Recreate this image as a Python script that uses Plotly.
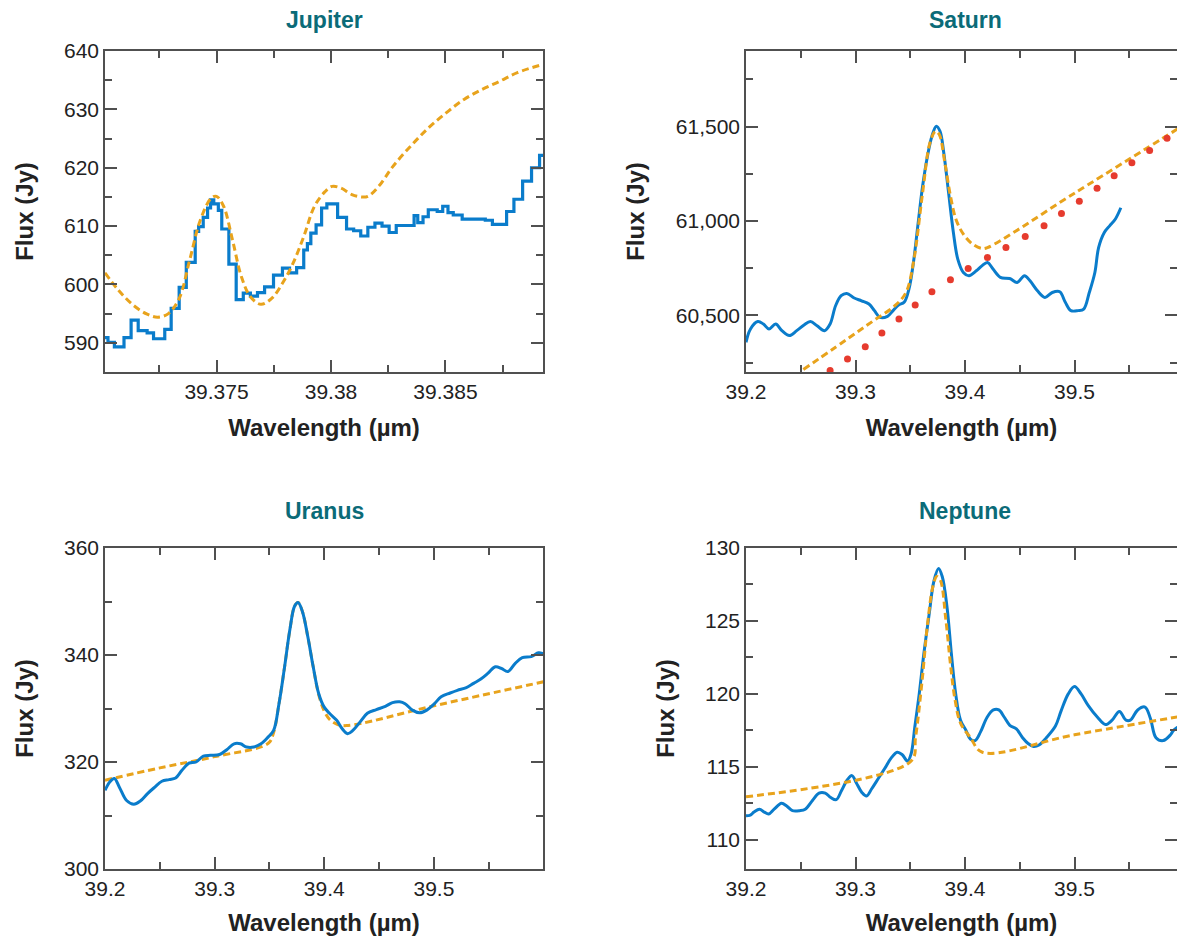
import plotly.graph_objects as go
from plotly.subplots import make_subplots

# ---------------- Jupiter ----------------
jup_x = [39.37013, 39.37026, 39.37054, 39.37096, 39.37127, 39.37158, 39.37197, 39.37225, 39.37274, 39.37302,
         39.37337, 39.37368, 39.37407, 39.37422, 39.37442, 39.37461, 39.37474, 39.37488, 39.37508, 39.37523,
         39.37554, 39.37586, 39.37617, 39.37648, 39.37679, 39.37710, 39.37749, 39.37788, 39.37819, 39.37850,
         39.37881, 39.37897, 39.37912, 39.37935, 39.37959, 39.37982, 39.38029, 39.38068, 39.38099, 39.38130,
         39.38161, 39.38192, 39.38223, 39.38254, 39.38285, 39.38363, 39.38379, 39.38402, 39.38425, 39.38464,
         39.38488, 39.38511, 39.38534, 39.38573, 39.38674, 39.38705, 39.38767, 39.38799, 39.38837, 39.38876,
         39.38911]
jup_x_end = 39.38926
jup_flux = [590.9, 590.1, 589.3, 590.9, 593.9, 592.1, 591.7, 590.7, 592.3, 595.9,
            599.5, 603.8, 609.1, 609.9, 611.5, 613.1, 614.5, 613.8, 612.7, 609.5,
            603.5, 597.4, 598.5, 598.0, 598.6, 599.6, 601.6, 602.8, 602.0, 602.9,
            605.9, 607.0, 608.8, 610.2, 613.1, 613.8, 611.5, 609.5, 609.2, 608.3,
            609.8, 610.5, 610.0, 608.9, 610.1, 611.8, 610.6, 611.6, 612.8, 612.5,
            613.4, 612.3, 611.9, 611.2, 611.0, 610.3, 612.5, 614.6, 617.7, 620.0,
            622.1]
jup_model_x = [39.37013, 39.37072, 39.37135, 39.37197, 39.37243, 39.37290, 39.37337, 39.37383, 39.37430,
               39.37477, 39.37500, 39.37531, 39.37570, 39.37609, 39.37648, 39.37694, 39.37741, 39.37788,
               39.37834, 39.37881, 39.37928, 39.37974, 39.38005, 39.38044, 39.38091, 39.38130, 39.38161,
               39.38208, 39.38270, 39.38348, 39.38425, 39.38503, 39.38581, 39.38659, 39.38736, 39.38814,
               39.38926]
jup_model = [602.0, 599.0, 596.5, 594.9, 594.4, 595.0, 597.6, 604.2, 611.1,
             614.8, 615.1, 613.4, 607.6, 601.3, 597.9, 596.6, 597.6, 600.2,
             603.6, 608.2, 613.4, 615.9, 616.8, 616.5, 615.4, 615.0, 615.1,
             616.8, 620.2, 623.7, 626.8, 629.4, 631.7, 633.4, 634.8, 636.3,
             637.7]

# ---------------- Saturn ----------------
sat_x = [39.2000, 39.2041, 39.2108, 39.2159, 39.2210, 39.2271, 39.2328, 39.2396, 39.2463, 39.2530,
         39.2588, 39.2649, 39.2717, 39.2768, 39.2818, 39.2869, 39.2920, 39.2988, 39.3055, 39.3123,
         39.3173, 39.3224, 39.3292, 39.3343, 39.3393, 39.3444, 39.3488, 39.3529, 39.3569, 39.3613,
         39.3657, 39.3698, 39.3738, 39.3772, 39.3806, 39.3850, 39.3894, 39.3934, 39.3985, 39.4036,
         39.4103, 39.4154, 39.4205, 39.4256, 39.4323, 39.4408, 39.4476, 39.4543, 39.4594, 39.4662,
         39.4730, 39.4797, 39.4865, 39.4916, 39.4967, 39.5033, 39.5084, 39.5135, 39.5186, 39.5220,
         39.5271, 39.5321, 39.5372, 39.5423]
sat_flux = [60357, 60428, 60467, 60454, 60428, 60454, 60419, 60393, 60419, 60449,
            60467, 60445, 60419, 60454, 60551, 60604, 60616, 60592, 60577, 60560,
            60525, 60489, 60495, 60525, 60555, 60569, 60639, 60780, 60974, 61185,
            61343, 61449, 61502, 61475, 61361, 61150, 60938, 60798, 60727, 60710,
            60736, 60762, 60780, 60745, 60701, 60695, 60674, 60710, 60683, 60630,
            60595, 60621, 60625, 60569, 60525, 60525, 60533, 60621, 60727, 60859,
            60938, 60974, 61009, 61070]
sat_model_x = [39.2524, 39.3000, 39.3173, 39.3360, 39.3461, 39.3529, 39.3613, 39.3680, 39.3731, 39.3765,
               39.3816, 39.3867, 39.3917, 39.3985, 39.4070, 39.4154, 39.4205, 39.5000, 39.5957, 39.6000]
sat_model = [60213, 60405, 60475, 60551, 60621, 60780, 61150, 61414, 61475, 61458,
             61308, 61132, 61009, 60930, 60877, 60854, 60859, 61147, 61493, 61509]
sat_cont_x = [39.2768, 39.2927, 39.3089, 39.3241, 39.3397, 39.3545, 39.3698, 39.3867, 39.4029, 39.4205,
              39.4374, 39.4550, 39.4722, 39.4881, 39.5044, 39.5206, 39.5362, 39.5524, 39.5686, 39.5845]
sat_cont = [60208, 60269, 60334, 60407, 60481, 60555, 60625, 60688, 60748, 60806,
            60859, 60917, 60974, 61039, 61104, 61173, 61239, 61308, 61373, 61438]

# ---------------- Uranus ----------------
ura_x = [39.2000, 39.2043, 39.2085, 39.2131, 39.2197, 39.2263, 39.2322, 39.2388, 39.2454, 39.2519,
         39.2585, 39.2644, 39.2700, 39.2766, 39.2831, 39.2897, 39.2963, 39.3045, 39.3111, 39.3177,
         39.3236, 39.3291, 39.3357, 39.3423, 39.3489, 39.3538, 39.3587, 39.3636, 39.3686, 39.3729,
         39.3761, 39.3801, 39.3850, 39.3899, 39.3949, 39.3998, 39.4047, 39.4113, 39.4162, 39.4212,
         39.4261, 39.4327, 39.4393, 39.4475, 39.4557, 39.4622, 39.4688, 39.4737, 39.4803, 39.4869,
         39.4935, 39.5000, 39.5066, 39.5148, 39.5214, 39.5296, 39.5362, 39.5428, 39.5494, 39.5560,
         39.5615, 39.5674, 39.5740, 39.5806, 39.5888, 39.5954, 39.6000]
ura_flux = [314.7, 316.25, 316.9, 315.3, 312.8, 312.1, 312.7, 314.1, 315.3, 316.4,
            316.7, 317.0, 318.4, 319.8, 320.0, 321.1, 321.25, 321.4, 322.3, 323.4,
            323.4, 322.8, 322.8, 323.4, 324.7, 325.9, 330.9, 337.5, 344.7, 349.1,
            349.8, 348.1, 343.4, 337.8, 332.8, 330.3, 329.1, 327.8, 326.25, 325.3,
            325.9, 327.5, 329.1, 329.8, 330.4, 331.1, 331.25, 330.9, 329.7, 329.2,
            329.7, 330.8, 332.2, 332.9, 333.4, 333.9, 334.7, 335.5, 336.6, 337.8,
            337.5, 336.9, 338.4, 339.5, 339.7, 340.4, 340.2]
ura_model_x = [39.2000, 39.2500, 39.3000, 39.3489, 39.3538, 39.3587, 39.3636, 39.3686, 39.3729, 39.3761,
               39.3801, 39.3850, 39.3899, 39.3949, 39.3998, 39.4047, 39.4113, 39.4200, 39.5000, 39.6000]
ura_model = [316.6, 318.9, 321.0, 323.5, 325.5, 330.9, 337.5, 344.7, 349.1, 349.8,
             348.1, 343.4, 337.8, 332.6, 329.6, 328.0, 327.1, 326.8, 330.5, 335.0]

# ---------------- Neptune ----------------
nep_x = [39.2000, 39.2040, 39.2073, 39.2123, 39.2167, 39.2207, 39.2257, 39.2324, 39.2374, 39.2424,
         39.2490, 39.2541, 39.2607, 39.2667, 39.2724, 39.2774, 39.2824, 39.2874, 39.2924, 39.2968,
         39.3008, 39.3058, 39.3101, 39.3148, 39.3208, 39.3268, 39.3325, 39.3381, 39.3425, 39.3475,
         39.3508, 39.3541, 39.3582, 39.3625, 39.3675, 39.3715, 39.3758, 39.3792, 39.3835, 39.3875,
         39.3915, 39.3959, 39.4009, 39.4049, 39.4092, 39.4142, 39.4202, 39.4259, 39.4309, 39.4359,
         39.4409, 39.4469, 39.4526, 39.4576, 39.4626, 39.4676, 39.4743, 39.4826, 39.4876, 39.4943,
         39.5000, 39.5060, 39.5126, 39.5210, 39.5283, 39.5343, 39.5410, 39.5470, 39.5510, 39.5577,
         39.5644, 39.5694, 39.5744, 39.5810, 39.5877, 39.5904, 39.6000]
nep_flux = [111.65, 111.7, 111.9, 112.1, 111.9, 111.77, 112.1, 112.5, 112.3, 112.0,
            112.0, 112.1, 112.7, 113.2, 113.2, 112.9, 112.75, 113.4, 114.1, 114.4,
            113.9, 113.25, 113.0, 113.5, 114.2, 114.9, 115.6, 116.0, 115.85, 115.4,
            115.9, 117.7, 120.0, 122.8, 125.6, 127.7, 128.6, 128.05, 126.0, 122.8,
            120.0, 118.2, 117.5, 116.9, 116.8, 117.4, 118.4, 118.9, 118.9, 118.4,
            117.85, 117.6, 117.0, 116.6, 116.4, 116.5, 117.0, 117.8, 118.8, 120.0,
            120.5, 120.0, 119.2, 118.4, 117.9, 118.2, 118.8, 118.2, 118.2, 118.9,
            119.1, 118.3, 117.0, 116.8, 117.2, 117.5, 118.0]
nep_model_x = [39.2000, 39.3508, 39.3548, 39.3608, 39.3658, 39.3708, 39.3742, 39.3775, 39.3825, 39.3869,
               39.3909, 39.3959, 39.4050, 39.4159, 39.5000, 39.6000]
nep_model = [112.95, 115.4, 117.0, 120.9, 124.8, 127.4, 128.05, 127.8, 125.1, 121.9,
             119.6, 118.0, 117.0, 116.0, 117.2, 118.5]

titles = ["Jupiter", "Saturn", "Uranus", "Neptune"]

BLUE = "#0a7ccb"
ORANGE = "#e8a31c"
RED = "#e63b2e"
TEAL = "#0b6b78"
AXC = "#505050"
FONT = "Arial, Liberation Sans, Helvetica, sans-serif"
DASH = "7px,4px"

fig = make_subplots(rows=2, cols=2)

# Jupiter
fig.add_trace(go.Scatter(x=jup_x + [jup_x_end], y=jup_flux + [jup_flux[-1]], mode="lines",
                         line=dict(color=BLUE, width=3.2, shape="hv")), row=1, col=1)
fig.add_trace(go.Scatter(x=jup_model_x, y=jup_model, mode="lines",
                         line=dict(color=ORANGE, width=3, dash=DASH, shape="spline")), row=1, col=1)
# Saturn
fig.add_trace(go.Scatter(x=sat_x, y=sat_flux, mode="lines",
                         line=dict(color=BLUE, width=3, shape="spline")), row=1, col=2)
fig.add_trace(go.Scatter(x=sat_model_x, y=sat_model, mode="lines",
                         line=dict(color=ORANGE, width=3, dash=DASH, shape="spline")), row=1, col=2)
fig.add_trace(go.Scatter(x=sat_cont_x, y=sat_cont, mode="markers",
                         marker=dict(color=RED, size=7)), row=1, col=2)
# Uranus (model drawn beneath the data)
fig.add_trace(go.Scatter(x=ura_model_x, y=ura_model, mode="lines",
                         line=dict(color=ORANGE, width=3, dash=DASH, shape="spline")), row=2, col=1)
fig.add_trace(go.Scatter(x=ura_x, y=ura_flux, mode="lines",
                         line=dict(color=BLUE, width=3, shape="spline")), row=2, col=1)
# Neptune
fig.add_trace(go.Scatter(x=nep_x, y=nep_flux, mode="lines",
                         line=dict(color=BLUE, width=3, shape="spline")), row=2, col=2)
fig.add_trace(go.Scatter(x=nep_model_x, y=nep_model, mode="lines",
                         line=dict(color=ORANGE, width=3, dash=DASH, shape="spline")), row=2, col=2)

W, H = 1177, 936
xdom_left = [105 / W, 543 / W]
xdom_right = [746 / W, 1.0]
ydom_top = [1 - 372 / H, 1 - 51 / H]
ydom_bot = [1 - 869 / H, 1 - 548 / H]

common = dict(showline=True, linecolor=AXC, linewidth=1.5, mirror="ticks", ticks="inside",
              ticklen=12, tickwidth=1.5, tickcolor=AXC, showgrid=False, zeroline=False,
              automargin=False,
              tickfont=dict(family=FONT, size=21, color="#222222"))
minor_common = dict(ticks="inside", ticklen=7, tickwidth=1.5, tickcolor=AXC, showgrid=False)
xtitle = dict(text="<b>Wavelength (µm)</b>", font=dict(family=FONT, size=24, color="#222222"), standoff=17)
ytitle = dict(text="<b>Flux (Jy)</b>", font=dict(family=FONT, size=24, color="#222222"), standoff=24)

# Jupiter axes
fig.update_xaxes(domain=xdom_left, range=[39.37013, 39.38926], tickvals=[39.375, 39.38, 39.385],
                 ticktext=["39.375", "39.38", "39.385"], title=xtitle,
                 minor=dict(tickvals=[39.3725, 39.3775, 39.3825, 39.3875], **minor_common),
                 row=1, col=1, **common)
fig.update_yaxes(domain=ydom_top, range=[585, 640], tick0=0, dtick=10, title=ytitle,
                 minor=dict(dtick=5, **minor_common), row=1, col=1, **common)
# Saturn axes
fig.update_xaxes(domain=xdom_right, range=[39.2, 39.5936], tick0=39.2, dtick=0.1, title=xtitle,
                 minor=dict(dtick=0.05, **minor_common), row=1, col=2, **common)
fig.update_yaxes(domain=ydom_top, range=[60200, 61900], tickvals=[60500, 61000, 61500],
                 ticktext=["60,500", "61,000", "61,500"], title=ytitle,
                 minor=dict(tickvals=[60250, 60750, 61250, 61750], **minor_common),
                 row=1, col=2, **common)
# Uranus axes
fig.update_xaxes(domain=xdom_left, range=[39.2, 39.5995], tick0=39.2, dtick=0.1, title=xtitle,
                 minor=dict(dtick=0.05, **minor_common), row=2, col=1, **common)
fig.update_yaxes(domain=ydom_bot, range=[300, 360], tick0=0, dtick=20, title=ytitle,
                 minor=dict(dtick=10, **minor_common), row=2, col=1, **common)
# Neptune axes
fig.update_xaxes(domain=xdom_right, range=[39.2, 39.5936], tick0=39.2, dtick=0.1, title=xtitle,
                 minor=dict(dtick=0.05, **minor_common), row=2, col=2, **common)
fig.update_yaxes(domain=ydom_bot, range=[108, 130], tick0=0, dtick=5, title=ytitle,
                 minor=dict(dtick=2.5, **minor_common), row=2, col=2, **common)

title_pos = [((xdom_left[0] + xdom_left[1]) / 2, 1 - 20 / H),
             ((746 + 1184) / 2 / W, 1 - 20 / H),
             ((xdom_left[0] + xdom_left[1]) / 2, 1 - 511 / H),
             ((746 + 1184) / 2 / W, 1 - 511 / H)]
for t, (px, py) in zip(titles, title_pos):
    fig.add_annotation(text=f"<b>{t}</b>", x=px, y=py, xref="paper", yref="paper",
                       xanchor="center", yanchor="middle", showarrow=False,
                       font=dict(family=FONT, size=23, color=TEAL))

fig.update_layout(width=W, height=H, margin=dict(l=0, r=0, t=0, b=0),
                  paper_bgcolor="white", plot_bgcolor="white", showlegend=False)

fig.write_html("out.html")
